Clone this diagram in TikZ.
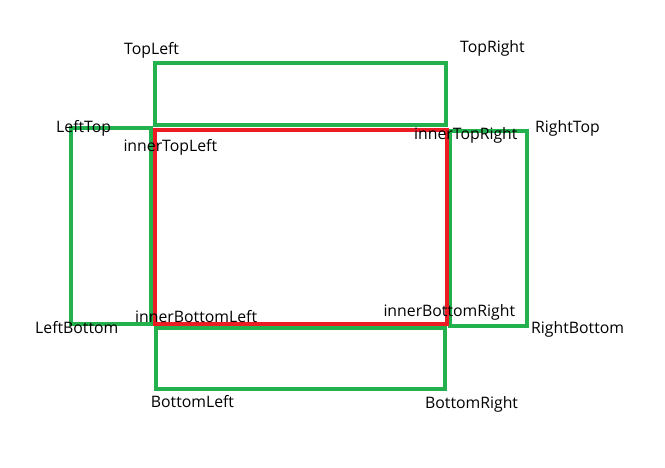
\documentclass[tikz,border=0pt]{standalone}
\usepackage{fontspec}
\setmainfont{Open Sans}
\definecolor{paintgreen}{HTML}{22B14C}
\definecolor{paintred}{HTML}{ED1C24}

\begin{document}
\begin{tikzpicture}[x=1pt, y=-1pt,
  side/.style={draw=paintgreen, line width=4pt},
  inner box/.style={draw=paintred, line width=4pt},
  tag/.style={anchor=base west, inner sep=0pt, font=\fontsize{15.8}{19}\selectfont}]

\useasboundingbox (0,0) rectangle (665,467);

% the four side boxes
\draw [side] (155.3,62.7) rectangle (446.3,125);
\draw [side] (70.7,128) rectangle (150.7,324);
\draw [side] (450.3,131) rectangle (527,326.3);
\draw [side] (156.3,328.2) rectangle (445.3,389.2);

% the inner box
\draw [inner box] (154.5,129.8) rectangle (446.5,323.5);

\foreach \n/\x/\y in {TopLeft/124/54.7, TopRight/460/52.3,
    LeftTop/56/132.3, RightTop/535/132.3,
    innerTopLeft/123.3/151.7, innerTopRight/414/139}
  \node [tag] (label-\n) at (\x,\y) {\n};

\foreach \n/\x/\y in {LeftBottom/35/333.6, RightBottom/531/333,
    innerBottomLeft/135/322, innerBottomRight/383.3/316.3,
    BottomLeft/150.7/407.3, BottomRight/425/408}
  \node [tag] (label-\n) at (\x,\y) {\n};

\end{tikzpicture}
\end{document}
